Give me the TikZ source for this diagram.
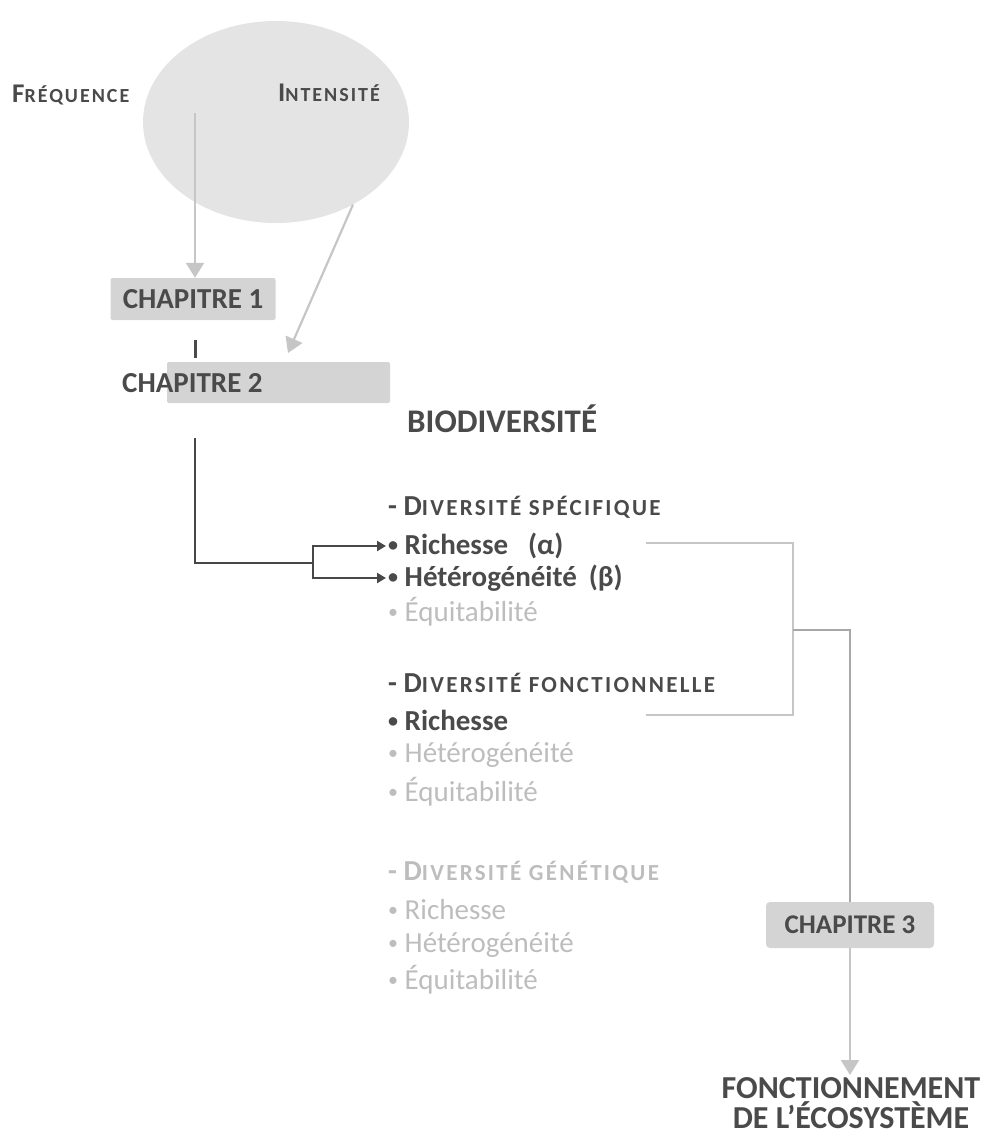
\documentclass[tikz,border=0pt]{standalone}
\usepackage{fontspec}
\setmainfont{Carlito}
\newfontfamily\scfont[LetterSpace=10]{Carlito}
\usetikzlibrary{positioning,arrows.meta,shapes.geometric,calc}
\definecolor{inkdark}{HTML}{4A4A4A}
\definecolor{inklite}{HTML}{BDBDBD}
\definecolor{boxgray}{HTML}{D4D4D4}
\definecolor{ellgray}{HTML}{E4E4E4}
\definecolor{linegray}{HTML}{C6C6C6}
\definecolor{arrdark}{HTML}{474747}
% fake small caps, tracked
\newcommand{\smc}[2][23]{{\scfont\bfseries\fontsize{#1}{#1}\selectfont #2}}
% small bullet
\newcommand{\bul}{{\raisebox{3pt}{\fontsize{20}{20}\selectfont •}}}

\begin{document}
\begin{tikzpicture}[x=1pt, y=-1pt,
  every node/.style={font=\fontsize{29}{34}\selectfont\bfseries, text=inkdark, inner sep=2pt},
  chapbox/.style={fill=boxgray, rounded corners=2pt, minimum height=42pt},
  item/.style={anchor=west, font=\fontsize{29}{34}\selectfont\bfseries},
  faint/.style={anchor=west, font=\fontsize{29}{34}\selectfont, text=inklite},
  lite/.style={draw=linegray, line width=2.2pt},
  litearr/.style={lite, -{Triangle[width=18pt,length=15pt]}},
  darr/.style={draw=arrdark, line width=2.6pt, -{Triangle[width=10pt,length=9pt]}}
]
\useasboundingbox (0,0) rectangle (991,1146);

% top: perturbation
\node[ellipse, fill=ellgray, minimum width=266pt, minimum height=202pt] (pert) at (276,122) {};
\node[anchor=west, font=\fontsize{27}{30}\selectfont\bfseries] (freq) at (10,95) {F\smc[20]{RÉQUENCE}};
\node[anchor=west, font=\fontsize{27}{30}\selectfont\bfseries] (inten) at (276,93) {I\smc[20]{NTENSITÉ}};
\coordinate (fqtop) at (195,113);
\coordinate (inend) at (288,353);

% chapters 1 and 2
\node[chapbox, minimum width=165pt] (ch1) at (193,299) {CHAPITRE 1};
\node[chapbox, minimum width=223pt, minimum height=41pt] (ch2box) at (278.5,382.5) {};
\node[anchor=west] (ch2) at (120,383) {CHAPITRE 2};
\draw[litearr] (fqtop) -- (fqtop |- ch1.north);
\draw[litearr] (pert.-47) -- (inend);
\draw[draw=inkdark, line width=3pt, shorten <=20pt, shorten >=4pt] (ch1.south -| fqtop) -- (ch2box.north -| fqtop);

% biodiversity
\node[anchor=west, font=\fontsize{33}{38}\selectfont\bfseries] (bio) at (405,419) {BIODIVERSITÉ};

\node[item] (dspec) at (386,507) {- D\smc{IVERSITÉ SPÉCIFIQUE}};
\node[item] (rich1) at (386,546) {\bul\ Richesse\hspace{20pt}(α)};
\node[item] (het1) at (386,578) {\bul\ Hétérogénéité\hspace{12pt}(β)};
\node[faint] (equ1) at (386,612) {\bul\ Équitabilité};

\node[item] (dfonc) at (386,683) {- D\smc{IVERSITÉ FONCTIONNELLE}};
\node[item] (rich2) at (386,720) {\bul\ Richesse};
\node[faint] (het2) at (386,755) {\bul\ Hétérogénéité};
\node[faint] (equ2) at (386,792) {\bul\ Équitabilité};

\node[faint, font=\fontsize{29}{34}\selectfont\bfseries] (dgen) at (386,872) {- D\smc{IVERSITÉ GÉNÉTIQUE}};
\node[faint] (rich3) at (386,910) {\bul\ Richesse};
\node[faint] (het3) at (386,945) {\bul\ Hétérogénéité};
\node[faint] (equ3) at (386,980) {\bul\ Équitabilité};

% dark fork from chapter 2
\coordinate (bstart) at (195,438);
\coordinate (fork) at (313,563);
\draw[draw=arrdark, line width=2.6pt] (bstart) |- (fork);
\draw[darr] (fork) |- (rich1.west);
\draw[darr] (fork) |- (het1.west);

% bracket to chapter 3
\node[chapbox, minimum width=168pt, minimum height=46pt, rounded corners=4pt, font=\fontsize{27}{30}\selectfont\bfseries] (ch3) at (850,925) {CHAPITRE 3};
\node[align=center, anchor=north, font=\fontsize{32}{30}\selectfont\bfseries] (fonct) at (851,1075) {FONCTIONNEMENT\\DE L’ÉCOSYSTÈME};
\coordinate (brtop) at (646,543);
\coordinate (brbot) at (646,715);
\coordinate (brmid) at (793,630);
\draw[lite] (brtop) -| (brmid) |- (brbot);
\draw[lite, line width=2.6pt, draw=linegray!85!black] (brmid) -| (ch3.north);
\draw[litearr] (ch3.south) -- (ch3.south |- fonct.north);
\end{tikzpicture}
\end{document}
